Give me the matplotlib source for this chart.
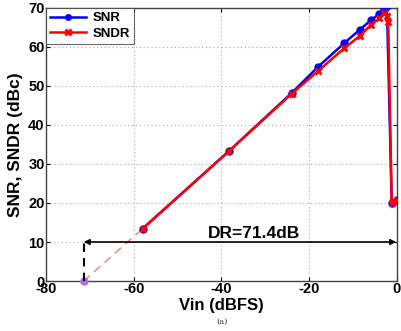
import matplotlib
matplotlib.use("Agg")
import matplotlib.pyplot as plt

plt.rcParams['font.family'] = ['Liberation Sans', 'DejaVu Sans']
plt.rcParams['axes.unicode_minus'] = False

# Data
snr_x = [-58, -38.2, -24, -18, -12, -8.5, -6, -4, -3, -2.3, -1.2, 0]
snr_y = [13.4, 33.4, 48.2, 54.9, 61.0, 64.4, 66.8, 68.5, 69.7, 70.6, 20.0, 20.7]
sndr_x = [-58, -38.2, -24, -18, -12, -8.5, -6, -4, -3, -2.3, -2.0, -1.2, 0]
sndr_y = [13.4, 33.4, 48.0, 53.8, 59.7, 62.8, 65.6, 67.4, 68.6, 68.0, 66.4, 20.0, 20.7]
extrap_x = [-71.4, -58]
extrap_y = [0, 13.4]
dr_value = 71.4
dr_level = 10
xticks = [-80, -60, -40, -20, 0]
yticks = [0, 10, 20, 30, 40, 50, 60, 70]

fig = plt.figure(figsize=(4.01, 3.31), dpi=100)
ax = fig.add_axes([0.1147, 0.151, 0.8753, 0.825])

ax.plot(extrap_x, extrap_y, color='#f08080', lw=1, ls=(0, (6, 4)), zorder=2)
ax.plot([-71.4], [0], 'o', color='#b070d0', ms=5, zorder=3, clip_on=False)
ax.plot(snr_x, snr_y, '-o', color='#0000ff', lw=1.8, ms=5, label='SNR', zorder=3)
ax.plot(sndr_x, sndr_y, '-x', color='#ff0000', lw=1.8, ms=5, mew=2, label='SNDR', zorder=4)

# DR annotation
ax.plot([-71.4, -71.4], [0, dr_level], color='black', lw=1.5, ls=(0, (4, 3)), zorder=3)
ax.annotate('', xy=(-71.4, dr_level), xytext=(-0.2, dr_level),
            arrowprops=dict(arrowstyle='<|-|>', color='black', lw=1.2,
                            mutation_scale=8, shrinkA=0, shrinkB=0), zorder=5)
ax.text(-32.7, dr_level + 0.3, 'DR=%.1fdB' % dr_value, ha='center', va='bottom',
        fontsize=12.5, fontweight='bold', color='black')

ax.set_xlim(-80, 0)
ax.set_ylim(0, 70)
ax.set_xticks(xticks)
ax.set_yticks(yticks)
ax.grid(True, ls=(0, (1, 2.5)), color='#aaaaaa', lw=0.8)
ax.tick_params(direction='in', length=3, labelsize=10.5, pad=1, top=True, right=True)
for lbl in ax.get_xticklabels() + ax.get_yticklabels():
    lbl.set_fontweight('bold')
for s in ax.spines.values():
    s.set_color('#444444')
    s.set_linewidth(1)

ax.set_xlabel('Vin (dBFS)', fontsize=12, fontweight='bold', labelpad=1)
ax.set_ylabel('SNR, SNDR (dBc)', fontsize=12.5, fontweight='bold', labelpad=4)

leg = ax.legend(loc='upper left', prop={'weight': 'bold', 'size': 9.5},
                frameon=True, fancybox=False, edgecolor='#444444', borderaxespad=0,
                handlelength=2.7, borderpad=0.3, labelspacing=0.25, markerscale=0.8,
                handletextpad=0.5)
leg.get_frame().set_linewidth(0.8)

fig.text(222 / 401, 1 - 322 / 331, '(a)', ha='center', va='center', fontsize=6,
         family='DejaVu Serif', color='#333333')

fig.savefig('out.png', dpi=100)
